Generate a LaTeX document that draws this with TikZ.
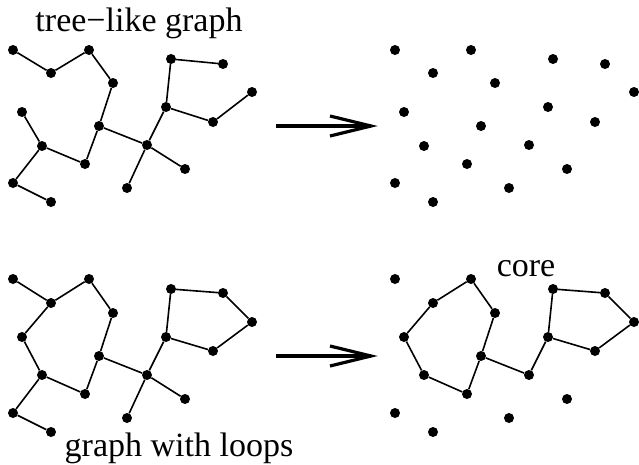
\documentclass[tikz,border=0pt]{standalone}
\usepackage{fontspec}
\setmainfont{Liberation Serif}
\begin{document}
\begin{tikzpicture}[x=1pt,y=-1pt,
  dot/.style={circle,fill=black,inner sep=0pt,minimum size=10pt},
  edge/.style={line width=1.6pt},
  bigarrow/.style={line width=3.2pt,line join=miter},
  lbl/.style={anchor=base,inner sep=0pt,font=\fontsize{34}{39}\selectfont}]
\useasboundingbox (0,0) rectangle (639,464);
% top-left tree-like graph
\foreach \n/\x/\y in {1/13/50,2/51/73,3/89/50,4/113/83,5/99/126,6/85/164,7/42/146,8/22/112,9/13/183,10/51/202,11/147/145,12/166/107,13/171/59,14/223/64,15/252/92,16/213/122,17/185/169,18/127/188}{
  \node[dot] (a\n) at (\x,\y) {};
  \node[dot] (c\n) at (\x+382,\y) {};
}
\draw[edge] (a1)--(a2)--(a3)--(a4)--(a5)--(a6)--(a7)--(a8);
\draw[edge] (a7)--(a9)--(a10);
\draw[edge] (a5)--(a11)--(a12)--(a13)--(a14);
\draw[edge] (a12)--(a16)--(a15);
\draw[edge] (a11)--(a17);
\draw[edge] (a11)--(a18);
% bottom graph with loops
\foreach \n/\x/\y in {1/13/279,2/51/303,3/89/279,4/113/313,5/99/356,6/85/394,7/42/375,8/22/337,9/13/413,10/51/432,11/147/375,12/166/337,13/171/289,14/223/293,15/252/322,16/213/351,17/185/399,18/127/418}{
  \node[dot] (b\n) at (\x,\y) {};
  \node[dot] (d\n) at (\x+382,\y) {};
}
\draw[edge] (b1)--(b2)--(b3)--(b4)--(b5)--(b6)--(b7)--(b8)--(b2);
\draw[edge] (b7)--(b9)--(b10);
\draw[edge] (b5)--(b11)--(b12)--(b13)--(b14)--(b15)--(b16)--(b12);
\draw[edge] (b11)--(b17);
\draw[edge] (b11)--(b18);
% core
\draw[edge] (d2)--(d3)--(d4)--(d5)--(d6)--(d7)--(d8)--(d2);
\draw[edge] (d5)--(d11)--(d12)--(d13)--(d14)--(d15)--(d16)--(d12);
% arrows
\coordinate (p1s) at (276,126);
\coordinate (p1e) at (371,126);
\coordinate (p1u) at (330,116);
\coordinate (p1d) at (330,136);
\draw[bigarrow] (p1s)--(p1e);
\draw[bigarrow] (p1u)--(p1e)--(p1d);
\coordinate (p2s) at (276,356);
\coordinate (p2e) at (371,356);
\coordinate (p2u) at (330,346);
\coordinate (p2d) at (330,366);
\draw[bigarrow] (p2s)--(p2e);
\draw[bigarrow] (p2u)--(p2e)--(p2d);
% labels
\node[lbl] (t1) at (139,31.5) {tree−like graph};
\node[lbl] (t2) at (179,456) {graph with loops};
\node[lbl] (t3) at (526,276.5) {core};
\end{tikzpicture}
\end{document}
